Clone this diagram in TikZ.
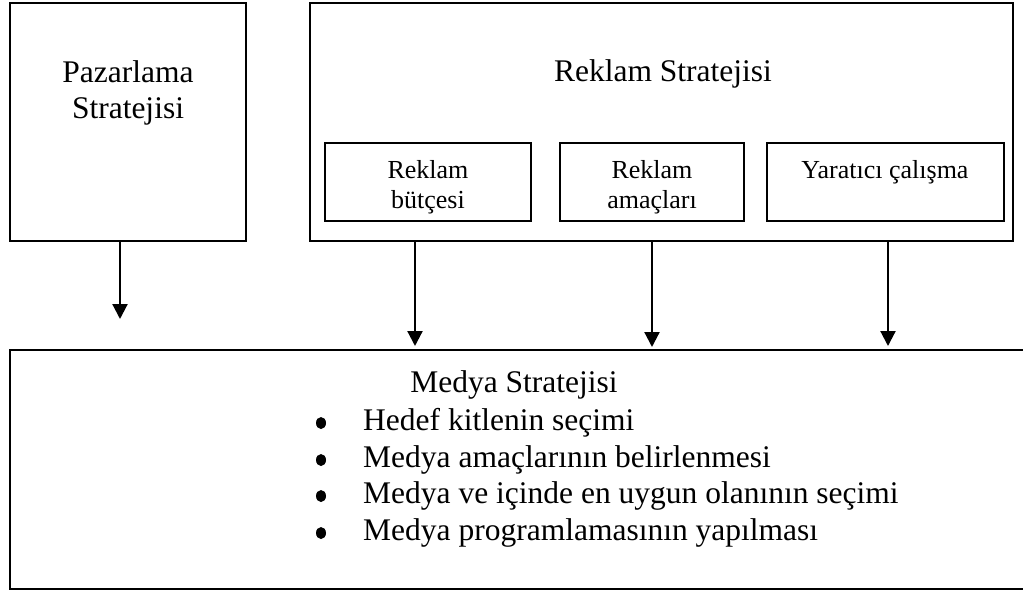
\documentclass[tikz,border=0pt]{standalone}
\usepackage{fontspec}
\setmainfont{Liberation Serif}
\usetikzlibrary{arrows.meta,shapes.geometric}
\begin{document}
\begin{tikzpicture}[x=1pt,y=-1pt,
  box/.style={draw,line width=2.2pt,anchor=north west,inner sep=0pt,outer sep=0pt},
  big/.style={font=\fontsize{31.5}{36}\selectfont,inner sep=0pt,anchor=base},
  bigl/.style={font=\fontsize{31.5}{36}\selectfont,inner sep=0pt,anchor=base west},
  small/.style={font=\fontsize{26}{30}\selectfont,inner sep=0pt,anchor=base},
  dot/.style={ellipse,fill,inner sep=0pt,minimum width=10pt,minimum height=12pt},
  arr/.style={line width=2.2pt,-{Triangle[width=15pt,length=15pt]}}]
\useasboundingbox (0,0) rectangle (1023,592);
\clip (0,0) rectangle (1023,592);
% boxes
\node[box,minimum width=236pt,minimum height=238pt] (paz) at (10,3) {};
\node[box,minimum width=703pt,minimum height=238pt] (rek) at (310,3) {};
\node[box,minimum width=206pt,minimum height=78pt] (b1) at (325,143) {};
\node[box,minimum width=184pt,minimum height=78pt] (b2) at (560,143) {};
\node[box,minimum width=237pt,minimum height=78pt] (b3) at (767,143) {};
\node[box,minimum width=1020pt,minimum height=239pt] (med) at (10,350) {};
% texts
\node[big] (pazt1) at (128,82) {Pazarlama};
\node[big] (pazt2) at (128,118) {Stratejisi};
\node[big] (rekt) at (663,81) {Reklam Stratejisi};
\node[small] (b1t1) at (428,178) {Reklam};
\node[small] (b1t2) at (428,208) {bütçesi};
\node[small] (b2t1) at (652,178) {Reklam};
\node[small] (b2t2) at (652,208) {amaçları};
\node[small] (b3t) at (885,178) {Yaratıcı çalışma};
\node[big] (medt) at (514,392) {Medya Stratejisi};
\node[dot] (d1) at (321,423) {};
\node[dot] (d2) at (321,460) {};
\node[dot] (d3) at (321,496) {};
\node[dot] (d4) at (321,533) {};
\node[bigl] (i1) at (363,430) {Hedef kitlenin seçimi};
\node[bigl] (i2) at (363,467) {Medya amaçlarının belirlenmesi};
\node[bigl] (i3) at (363,503) {Medya ve içinde en uygun olanının seçimi};
\node[bigl] (i4) at (363,540) {Medya programlamasının yapılması};
% arrows
\coordinate (pazend) at (120,319);
\draw[arr] (paz.south -| pazend) -- (pazend);
\draw[arr,shorten >=4pt] (rek.south -| 415,0) -- (med.north -| 415,0);
\draw[arr,shorten >=3pt] (rek.south -| 652,0) -- (med.north -| 652,0);
\draw[arr,shorten >=4pt] (rek.south -| 888,0) -- (med.north -| 888,0);
\end{tikzpicture}
\end{document}
